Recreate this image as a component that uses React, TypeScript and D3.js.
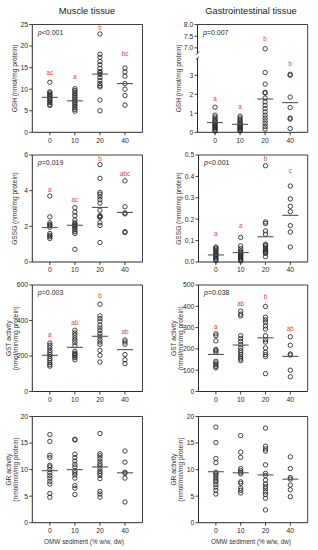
import React from "react";
import * as d3 from "d3";

// OMW sediment doses (% w/w, dw)
const doses = ["0", "10", "20", "40"];

// Muscle GSH (nmol/mg protein)
const musGSH = [
  [11.6, 9.4, 9.1, 8.8, 8.5, 8.2, 7.9, 7.6, 7.3, 6.9, 6.5, 6.2],
  [10.1, 9.7, 9.3, 8.9, 8.5, 8.1, 7.7, 7.3, 6.9, 6.5, 6.1, 5.7, 5.3, 4.9],
  [22.8, 18.1, 17.4, 16.4, 15.7, 14.8, 14.1, 13.8, 13.4, 12.7, 12.0, 11.3, 10.8, 10.5, 7.5, 5.0],
  [14.9, 14.0, 13.0, 11.3, 10.0, 8.5, 6.3],
];
const musGSHLine = [8.1, 7.3, 13.5, 11.3];
const musGSHLetters = ["ac", "a", "b", "bc"];
const musGSHLetterY = [13.8, 12.9, 24.2, 18.3];

// Gastrointestinal GSH
const giGSH = [
  [1.32, 0.9, 0.8, 0.7, 0.62, 0.55, 0.48, 0.42, 0.36, 0.3, 0.24, 0.18, 0.12, 0.06],
  [0.85, 0.75, 0.66, 0.58, 0.5, 0.43, 0.38, 0.32, 0.27, 0.22, 0.17, 0.12, 0.07],
  [6.96, 3.14, 2.53, 2.1, 2.07, 1.8, 1.6, 1.42, 1.25, 1.07, 0.9, 0.75, 0.6, 0.45, 0.3, 0.17],
  [3.05, 3.0, 1.85, 1.3, 0.75, 0.7, 0.2],
];
const giGSHLine = [0.51, 0.42, 1.75, 1.56];
const giGSHLetters = ["a", "a", "b", "b"];
const giGSHLetterY = [1.75, 1.32, 7.4, 3.6];

// Muscle GSSG
const musGSSG = [
  [3.7, 2.53, 2.2, 2.1, 2.05, 1.95, 1.6, 1.5, 1.42, 1.32],
  [3.05, 2.8, 2.6, 2.35, 2.2, 2.12, 2.05, 2.0, 1.9, 1.8, 1.7, 1.6, 0.71],
  [5.46, 4.69, 3.9, 3.8, 3.65, 3.5, 3.3, 2.9, 2.6, 2.55, 2.5, 2.2, 2.05, 1.09],
  [4.55, 3.1, 2.75, 2.7, 1.7, 1.65],
];
const musGSSGLine = [1.93, 2.06, 3.06, 2.78];
const musGSSGLetters = ["a", "ac", "b", "abc"];
const musGSSGLetterY = [4.07, 3.47, 5.78, 4.97];

// Gastrointestinal GSSG
const giGSSG = [
  [0.07, 0.065, 0.06, 0.052, 0.046, 0.04, 0.035, 0.03, 0.024, 0.018, 0.012, 0.006],
  [0.115, 0.075, 0.062, 0.053, 0.047, 0.041, 0.036, 0.031, 0.026, 0.021, 0.015, 0.01, 0.005],
  [0.45, 0.187, 0.18, 0.145, 0.13, 0.083, 0.077, 0.07, 0.062, 0.055, 0.05, 0.045, 0.04, 0.025],
  [0.355, 0.295, 0.26, 0.235, 0.17, 0.14, 0.07],
];
const giGSSGLine = [0.033, 0.044, 0.118, 0.218];
const giGSSGLetters = ["a", "a", "b", "c"];
const giGSSGLetterY = [0.13, 0.17, 0.48, 0.425];

// Muscle GST activity (nmol/min/mg protein)
const musGST = [
  [273, 260, 247, 232, 219, 208, 198, 185, 174, 162, 151, 143],
  [345, 330, 317, 302, 289, 275, 258, 226, 215, 208, 200, 191, 179],
  [492, 426, 411, 396, 374, 358, 343, 326, 311, 294, 279, 266, 232, 204, 166],
  [290, 279, 266, 208, 179, 157],
];
const musGSTLine = [204, 249, 311, 236];
const musGSTLetters = ["a", "ab", "b", "ab"];
const musGSTLetterY = [320, 389, 538, 338];

// Gastrointestinal GST activity
const giGST = [
  [271, 262, 238, 198, 192, 185, 142, 134, 126, 118, 111],
  [377, 363, 355, 262, 248, 235, 220, 204, 192, 182, 173, 162, 153, 145],
  [399, 349, 336, 324, 308, 293, 262, 243, 232, 204, 184, 173, 164, 84],
  [257, 217, 176, 171, 100, 69],
];
const giGSTLine = [174, 218, 252, 165];
const giGSTLetters = ["a", "ab", "b", "ab"];
const giGSTLetterY = [304, 413, 444, 293];

// Muscle GR activity
const musGR = [
  [16.6, 15.3, 12.7, 12.25, 10.8, 10.5, 10.0, 9.4, 8.9, 8.4, 7.8, 7.3, 5.5, 4.8],
  [15.7, 15.6, 12.9, 12.25, 11.6, 11.0, 10.5, 9.8, 9.4, 9.0, 8.4, 7.0, 6.5, 5.3],
  [16.8, 13.0, 12.6, 12.1, 11.6, 11.1, 10.7, 10.2, 9.7, 9.3, 8.9, 8.3, 5.9, 5.4, 4.8],
  [13.5, 11.4, 9.5, 9.3, 8.4, 3.9],
];
const musGRLine = [9.8, 10.0, 10.5, 9.4];

// Gastrointestinal GR activity
const giGR = [
  [18.0, 15.1, 12.1, 11.3, 9.5, 9.2, 8.9, 8.4, 8.0, 7.7, 7.2, 6.7, 6.1, 5.4],
  [16.4, 13.3, 12.3, 10.2, 9.8, 9.5, 9.2, 7.7, 7.4, 6.5, 6.1, 5.6],
  [17.8, 14.4, 13.9, 13.5, 10.9, 9.3, 8.9, 8.0, 7.3, 6.8, 6.4, 5.8, 5.3, 4.6, 2.4],
  [12.4, 10.2, 8.5, 8.2, 7.1, 6.2, 4.9],
];
const giGRLine = [9.6, 9.4, 9.0, 8.2];

// tick values
const musGSHTicks = [0, 5, 10, 15, 20, 25];
const giGSHLowTicks = [0, 1, 2, 3];
const giGSHHighTicks = [7.0, 7.5, 8.0];
const musGSSGTicks = [0, 2, 4, 6];
const giGSSGTicks = [0, 0.1, 0.2, 0.3, 0.4, 0.5];
const musGSTTicks = [0, 200, 400, 600];
const giGSTTicks = [0, 100, 200, 300, 400, 500];
const grTicks = [0, 5, 10, 15, 20];

const FONT = "'Liberation Sans', Arial, Helvetica, sans-serif";
const RED = "#ef3b3b";
const INK = "#2a2a2a";

// layout (px)
const rowTop = [24.5, 155, 285, 416.5];
const rowBottom = [132.3, 262, 391.5, 522.7];
const colLeft = [32.3, 198.5];
const colRight = [142.5, 307.7];
const colTitleX = [87, 251];
const yLabelX = [[15], [178.5]];
const yLabel2X = [[8.5, 15.8], [174, 181]];

type Segment = { domain: [number, number]; frac: [number, number]; ticks: number[]; fmt: (v: number) => string };
type Panel = {
  row: number;
  col: number;
  values: number[][];
  line: number[];
  letters?: string[];
  letterY?: number[];
  pText?: string;
  yLabel: string[];
  segments: Segment[];
};

const fInt = d3.format("d");
const f1 = d3.format(".1f");

const panels: Panel[] = [
  {
    row: 0, col: 0, values: musGSH, line: musGSHLine, letters: musGSHLetters, letterY: musGSHLetterY,
    pText: "<0.001", yLabel: ["GSH (nmol/mg protein)"],
    segments: [{ domain: [0, 25], frac: [0, 1], ticks: musGSHTicks, fmt: fInt }],
  },
  {
    row: 0, col: 1, values: giGSH, line: giGSHLine, letters: giGSHLetters, letterY: giGSHLetterY,
    pText: "=0.007", yLabel: ["GSH (nmol/mg protein)"],
    segments: [
      { domain: [0, 3.9], frac: [0, 0.688], ticks: giGSHLowTicks, fmt: fInt },
      { domain: [6.77, 8], frac: [0.734, 1], ticks: giGSHHighTicks, fmt: f1 },
    ],
  },
  {
    row: 1, col: 0, values: musGSSG, line: musGSSGLine, letters: musGSSGLetters, letterY: musGSSGLetterY,
    pText: "=0.019", yLabel: ["GSSG (nmol/mg protein)"],
    segments: [{ domain: [0, 6], frac: [0, 1], ticks: musGSSGTicks, fmt: fInt }],
  },
  {
    row: 1, col: 1, values: giGSSG, line: giGSSGLine, letters: giGSSGLetters, letterY: giGSSGLetterY,
    pText: "<0.001", yLabel: ["GSSG (nmol/mg protein)"],
    segments: [{ domain: [0, 0.5], frac: [0, 1], ticks: giGSSGTicks, fmt: f1 }],
  },
  {
    row: 2, col: 0, values: musGST, line: musGSTLine, letters: musGSTLetters, letterY: musGSTLetterY,
    pText: "=0.003", yLabel: ["GST activity", "(nmol/min/mg protein)"],
    segments: [{ domain: [0, 600], frac: [0, 1], ticks: musGSTTicks, fmt: fInt }],
  },
  {
    row: 2, col: 1, values: giGST, line: giGSTLine, letters: giGSTLetters, letterY: giGSTLetterY,
    pText: "=0.038", yLabel: ["GST activity", "(nmol/min/mg protein)"],
    segments: [{ domain: [0, 500], frac: [0, 1], ticks: giGSTTicks, fmt: fInt }],
  },
  {
    row: 3, col: 0, values: musGR, line: musGRLine, yLabel: ["GR activity", "(nmol/min/mg protein)"],
    segments: [{ domain: [0, 20], frac: [0, 1], ticks: grTicks, fmt: fInt }],
  },
  {
    row: 3, col: 1, values: giGR, line: giGRLine, yLabel: ["GR activity", "(nmol/min/mg protein)"],
    segments: [{ domain: [0, 20], frac: [0, 1], ticks: grTicks, fmt: fInt }],
  },
];

function ScatterPanel({ p }: { p: Panel }) {
  const top = rowTop[p.row];
  const bottom = rowBottom[p.row];
  const left = p.row === 0 && p.col === 1 ? 197.5 : colLeft[p.col];
  const right = colRight[p.col];
  const h = bottom - top;

  const x = d3.scalePoint<string>().domain(doses).range([left, right]).padding(0.7);

  // one linear scale per axis segment (only the GI GSH panel has a broken axis)
  const scales = p.segments.map((s) =>
    d3.scaleLinear().domain(s.domain).range([bottom - s.frac[0] * h, bottom - s.frac[1] * h])
  );
  const y = (v: number) => {
    let i = p.segments.findIndex((s) => v >= s.domain[0] && v <= s.domain[1]);
    if (i < 0) i = v > p.segments[p.segments.length - 1].domain[0] ? p.segments.length - 1 : 0;
    return scales[i](v);
  };

  const cy = (top + bottom) / 2;
  const broken = p.segments.length > 1;

  return (
    <g>
      {/* frame */}
      <line x1={left} x2={right} y1={top} y2={top} stroke={INK} strokeWidth={0.9} />
      <line x1={right} x2={right} y1={top} y2={bottom} stroke={INK} strokeWidth={0.9} />
      <line x1={left} x2={right} y1={bottom} y2={bottom} stroke={INK} strokeWidth={1} />
      {p.segments.map((s, i) => (
        <line key={"ax" + i} x1={left} x2={left} y1={scales[i].range()[0]} y2={scales[i].range()[1]} stroke={INK} strokeWidth={1} />
      ))}
      {broken &&
        p.segments.map((s, i) => {
          const yy = i === 0 ? scales[i].range()[1] : scales[i].range()[0];
          return <line key={"br" + i} x1={left - 1.6} x2={left + 1.6} y1={yy + 1.6} y2={yy - 1.6} stroke={INK} strokeWidth={0.9} />;
        })}

      {/* y ticks */}
      {p.segments.map((s, i) =>
        s.ticks.map((t) => (
          <g key={"yt" + i + "-" + t} transform={`translate(0,${scales[i](t)})`}>
            <line x1={left - 3} x2={left} stroke={INK} strokeWidth={0.9} />
            <text x={left - 4.2} dy="0.35em" textAnchor="end" fontSize={6.8} fill={INK}>
              {s.fmt(t)}
            </text>
          </g>
        ))
      )}

      {/* x ticks */}
      {doses.map((d) => (
        <g key={"xt" + d} transform={`translate(${x(d)},${bottom})`}>
          <line y1={0} y2={3} stroke={INK} strokeWidth={0.9} />
          <text y={10.3} textAnchor="middle" fontSize={6.8} fill={INK}>
            {d}
          </text>
        </g>
      ))}

      {/* y label */}
      {p.yLabel.length === 1 ? (
        <text transform={`translate(${yLabelX[p.col][0]},${cy}) rotate(-90)`} dy="0.35em" textAnchor="middle" fontSize={6.6} fill="#333">
          {p.yLabel[0]}
        </text>
      ) : (
        p.yLabel.map((l, i) => (
          <text key={l} transform={`translate(${yLabel2X[p.col][i]},${cy}) rotate(-90)`} dy="0.35em" textAnchor="middle" fontSize={6.6} fill="#333">
            {l}
          </text>
        ))
      )}

      {/* p value */}
      {p.pText && (
        <text x={left + 5.5} y={top + 10} fontSize={7} fill={INK}>
          <tspan fontStyle="italic">p</tspan>
          {p.pText}
        </text>
      )}

      {/* points */}
      {p.values.map((vals, ci) =>
        vals.map((v, k) => (
          <circle key={ci + "-" + k} cx={x(doses[ci])} cy={y(v)} r={2.2} fill="none" stroke="#222" strokeWidth={0.85} />
        ))
      )}

      {/* centre lines */}
      {p.line.map((v, ci) => (
        <line key={"m" + ci} x1={(x(doses[ci]) as number) - 8} x2={(x(doses[ci]) as number) + 8} y1={y(v)} y2={y(v)} stroke="#555" strokeWidth={1.1} />
      ))}

      {/* significance letters */}
      {p.letters &&
        p.letters.map((l, ci) => (
          <text key={"l" + ci} x={x(doses[ci])} y={y(p.letterY![ci])} dy="0.35em" textAnchor="middle" fontSize={6.3} fill={RED}>
            {l}
          </text>
        ))}
    </g>
  );
}

export default function App() {
  return (
    <svg
      width={318}
      height={550}
      viewBox="0 0 318 550"
      style={{ position: "absolute", left: 0, top: 0, background: "#fff" }}
      fontFamily={FONT}
    >
      <text x={colTitleX[0]} y={13.5} textAnchor="middle" fontSize={9.3} fill="#222">
        Muscle tissue
      </text>
      <text x={colTitleX[1]} y={13.5} textAnchor="middle" fontSize={9.3} fill="#222">
        Gastrointestinal tissue
      </text>
      {panels.map((p, i) => (
        <ScatterPanel key={i} p={p} />
      ))}
      <text x={84} y={543.5} textAnchor="middle" fontSize={6.4} fill="#333">
        OMW sediment (% w/w, dw)
      </text>
      <text x={251} y={543.5} textAnchor="middle" fontSize={6.4} fill="#333">
        OMW sediment (% w/w, dw)
      </text>
    </svg>
  );
}
